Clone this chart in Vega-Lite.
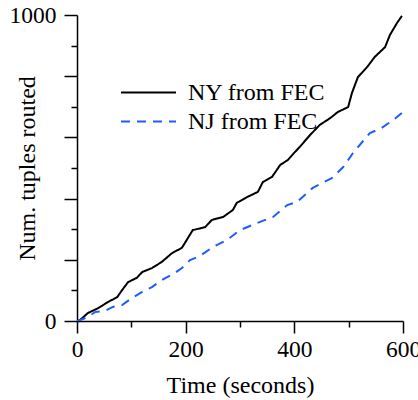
{
  "$schema": "https://vega.github.io/schema/vega-lite/v6.json",
  "autosize": "none",
  "width": 326,
  "height": 306,
  "padding": {"left": 77, "top": 15, "right": 15, "bottom": 79},
  "background": "white",
  "config": {
    "view": {"stroke": null},
    "font": "Liberation Serif",
    "axis": {"grid": false, "domainColor": "black", "tickColor": "black", "domainWidth": 1.5, "tickWidth": 1.5, "labelColor": "black", "titleColor": "black", "labelFont": "Liberation Serif", "titleFont": "Liberation Serif", "labelFontSize": 23.5, "titleFontSize": 24, "titleFontWeight": "normal"}
  },
  "data": {"values": [
    {"s": "NY from FEC", "t": 0, "n": 0},
    {"s": "NY from FEC", "t": 5.5, "n": 3},
    {"s": "NY from FEC", "t": 20, "n": 26},
    {"s": "NY from FEC", "t": 39, "n": 42},
    {"s": "NY from FEC", "t": 57, "n": 62},
    {"s": "NY from FEC", "t": 74, "n": 78},
    {"s": "NY from FEC", "t": 83, "n": 101},
    {"s": "NY from FEC", "t": 94, "n": 127},
    {"s": "NY from FEC", "t": 110, "n": 141},
    {"s": "NY from FEC", "t": 120, "n": 160},
    {"s": "NY from FEC", "t": 138, "n": 173},
    {"s": "NY from FEC", "t": 156, "n": 193},
    {"s": "NY from FEC", "t": 175, "n": 222},
    {"s": "NY from FEC", "t": 193, "n": 239},
    {"s": "NY from FEC", "t": 202, "n": 265},
    {"s": "NY from FEC", "t": 213, "n": 297},
    {"s": "NY from FEC", "t": 236, "n": 307},
    {"s": "NY from FEC", "t": 248, "n": 330},
    {"s": "NY from FEC", "t": 269, "n": 340},
    {"s": "NY from FEC", "t": 287, "n": 363},
    {"s": "NY from FEC", "t": 294, "n": 386},
    {"s": "NY from FEC", "t": 313, "n": 405},
    {"s": "NY from FEC", "t": 333, "n": 422},
    {"s": "NY from FEC", "t": 342, "n": 454},
    {"s": "NY from FEC", "t": 359, "n": 471},
    {"s": "NY from FEC", "t": 374, "n": 510},
    {"s": "NY from FEC", "t": 388, "n": 526},
    {"s": "NY from FEC", "t": 401, "n": 552},
    {"s": "NY from FEC", "t": 410, "n": 569},
    {"s": "NY from FEC", "t": 429, "n": 608},
    {"s": "NY from FEC", "t": 447, "n": 641},
    {"s": "NY from FEC", "t": 466, "n": 663},
    {"s": "NY from FEC", "t": 480, "n": 683},
    {"s": "NY from FEC", "t": 499, "n": 699},
    {"s": "NY from FEC", "t": 506, "n": 745},
    {"s": "NY from FEC", "t": 517, "n": 797},
    {"s": "NY from FEC", "t": 534, "n": 830},
    {"s": "NY from FEC", "t": 548, "n": 863},
    {"s": "NY from FEC", "t": 567, "n": 895},
    {"s": "NY from FEC", "t": 576, "n": 935},
    {"s": "NY from FEC", "t": 589, "n": 974},
    {"s": "NY from FEC", "t": 598, "n": 997},
    {"s": "NJ from FEC", "t": 0, "n": 0},
    {"s": "NJ from FEC", "t": 5.5, "n": 3},
    {"s": "NJ from FEC", "t": 20, "n": 13},
    {"s": "NJ from FEC", "t": 33, "n": 29},
    {"s": "NJ from FEC", "t": 52, "n": 33},
    {"s": "NJ from FEC", "t": 66, "n": 46},
    {"s": "NJ from FEC", "t": 83, "n": 52},
    {"s": "NJ from FEC", "t": 101, "n": 75},
    {"s": "NJ from FEC", "t": 120, "n": 95},
    {"s": "NJ from FEC", "t": 138, "n": 111},
    {"s": "NJ from FEC", "t": 156, "n": 134},
    {"s": "NJ from FEC", "t": 180, "n": 157},
    {"s": "NJ from FEC", "t": 193, "n": 173},
    {"s": "NJ from FEC", "t": 208, "n": 199},
    {"s": "NJ from FEC", "t": 226, "n": 212},
    {"s": "NJ from FEC", "t": 250, "n": 242},
    {"s": "NJ from FEC", "t": 276, "n": 265},
    {"s": "NJ from FEC", "t": 300, "n": 297},
    {"s": "NJ from FEC", "t": 331, "n": 320},
    {"s": "NJ from FEC", "t": 361, "n": 340},
    {"s": "NJ from FEC", "t": 387, "n": 379},
    {"s": "NJ from FEC", "t": 405, "n": 389},
    {"s": "NJ from FEC", "t": 434, "n": 435},
    {"s": "NJ from FEC", "t": 469, "n": 467},
    {"s": "NJ from FEC", "t": 490, "n": 503},
    {"s": "NJ from FEC", "t": 508, "n": 549},
    {"s": "NJ from FEC", "t": 525, "n": 585},
    {"s": "NJ from FEC", "t": 539, "n": 614},
    {"s": "NJ from FEC", "t": 561, "n": 631},
    {"s": "NJ from FEC", "t": 582, "n": 657},
    {"s": "NJ from FEC", "t": 598, "n": 680}
  ]},
  "mark": {"type": "line", "strokeWidth": 2, "clip": true},
  "encoding": {
    "x": {"field": "t", "type": "quantitative", "title": "Time (seconds)",
      "scale": {"domain": [0, 600], "nice": false, "zero": false},
      "axis": {"values": [0, 100, 200, 300, 400, 500, 600], "labelExpr": "datum.value % 200 === 0 ? datum.label : ''",
        "tickSize": {"condition": {"test": "datum.value % 200 === 0", "value": 12}, "value": 6},
        "labelPadding": 4, "titlePadding": 13, "labelFlush": false, "labelOverlap": false}},
    "y": {"field": "n", "type": "quantitative", "title": "Num. tuples routed",
      "scale": {"domain": [0, 1000], "nice": false},
      "axis": {"values": [0, 100, 200, 300, 400, 500, 600, 700, 800, 900, 1000], "labelExpr": "datum.value === 0 || datum.value === 1000 ? datum.label : ''",
        "format": "d",
        "tickSize": {"condition": {"test": "datum.value % 200 === 0", "value": 13}, "value": 6},
        "labelPadding": 8, "titleX": -43, "titleY": 153, "titleAngle": 270, "titleAlign": "center", "titleBaseline": "alphabetic", "labelFlush": false, "labelOverlap": false}},
    "color": {"field": "s", "type": "nominal", "sort": ["NY from FEC", "NJ from FEC"],
      "scale": {"domain": ["NY from FEC", "NJ from FEC"], "range": ["black", "#1f5cff"]},
      "legend": {"title": null, "orient": "none", "legendX": 43, "legendY": 63, "symbolType": "stroke", "symbolSize": 3025, "symbolStrokeWidth": 2,
        "labelFont": "Liberation Serif", "labelFontSize": 24, "labelColor": "black", "labelOffset": 11, "clipHeight": 29, "rowPadding": 0}},
    "strokeDash": {"field": "s", "type": "nominal", "sort": ["NY from FEC", "NJ from FEC"],
      "scale": {"domain": ["NY from FEC", "NJ from FEC"], "range": [[1, 0], [9, 7]]},
      "legend": {"title": null, "orient": "none", "legendX": 43, "legendY": 63, "symbolType": "stroke", "symbolSize": 3025, "symbolStrokeWidth": 2,
        "labelFont": "Liberation Serif", "labelFontSize": 24, "labelColor": "black", "labelOffset": 11, "clipHeight": 29, "rowPadding": 0}}
  }
}
